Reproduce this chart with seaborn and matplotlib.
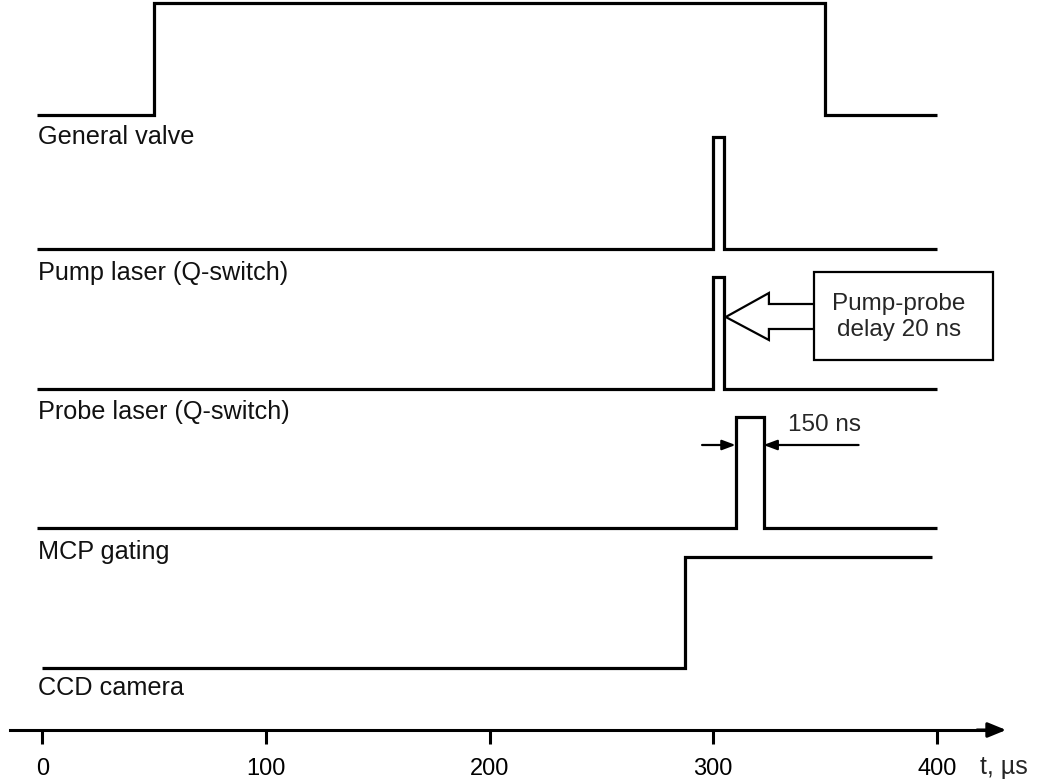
import numpy as np
import pandas as pd
import matplotlib
matplotlib.use("Agg")
import matplotlib.pyplot as plt
import seaborn as sns

# ---- timing data (µs) ----
channels = ["General valve", "Pump laser (Q-switch)", "Probe laser (Q-switch)",
            "MCP gating", "CCD camera"]
valve_t = [-2.5, 50, 350, 400]
valve_s = [0, 1, 0, 0]
pump_t = [-2.5, 300, 305, 400]
pump_s = [0, 1, 0, 0]
probe_t = [-2.5, 300, 305, 400]
probe_s = [0, 1, 0, 0]
mcp_t = [-2.5, 310, 322.5, 400]
mcp_s = [0, 1, 0, 0]
ccd_t = [0, 287.5, 398]
ccd_s = [0, 1, 1]
tick_values = [0, 100, 200, 300, 400]
tick_labels = ["0", "100", "200", "300", "400"]

# ---- layout (vertical rows in figure pixels, top = 0) ----
low_rows = [115, 249, 389, 528, 668]
high_rows = [3, 137, 277, 417, 557]
label_rows = [137, 273, 412, 552, 688]
axis_row = 730

sns.set_theme(style="white")
plt.rcParams["font.family"] = ["Liberation Sans", "DejaVu Sans"]


def step_points(times, states):
    xs, ys = [times[0]], [states[0]]
    for i in range(1, len(times)):
        xs += [times[i], times[i]]
        ys += [states[i - 1], states[i]]
    return xs, ys


frames = []
for name, t, s, lo, hi in zip(channels,
                              [valve_t, pump_t, probe_t, mcp_t, ccd_t],
                              [valve_s, pump_s, probe_s, mcp_s, ccd_s],
                              low_rows, high_rows):
    xs, ys = step_points(t, s)
    rows = [lo + (hi - lo) * v for v in ys]
    frames.append(pd.DataFrame({"t": xs, "row": rows, "channel": name,
                                "order": np.arange(len(xs))}))
traces = pd.concat(frames, ignore_index=True)

fig = plt.figure(figsize=(10.37, 7.82), dpi=100)
ax = fig.add_axes([0, 0, 1, 1])
ax.set_xlim(-19.0, 444.8)
ax.set_ylim(782, 0)

sns.lineplot(data=traces, x="t", y="row", hue="channel", units="channel",
             estimator=None, sort=False, palette=["black"] * len(channels),
             linewidth=2.3, legend=False, ax=ax)
for ln in ax.lines:
    ln.set_solid_joinstyle("miter")
    ln.set_solid_capstyle("butt")

# channel names
for name, r in zip(channels, label_rows):
    ax.text(-1.8, r, name, fontsize=18.2, va="center", ha="left", color="#111111")

# time axis
for side in ["top", "left", "right"]:
    ax.spines[side].set_visible(False)
ax.spines["bottom"].set_position(("data", axis_row))
ax.spines["bottom"].set_bounds(-14.5, 424)
ax.spines["bottom"].set_linewidth(2.2)
ax.spines["bottom"].set_color("black")
ax.set_xticks(tick_values)
ax.set_xticklabels(tick_labels)
ax.tick_params(axis="x", direction="out", length=10, width=2.2, pad=10,
               labelsize=17, colors="black", bottom=True)
ax.set_yticks([])
ax.set_xlabel("")
ax.set_ylabel("")
ax.annotate("", xy=(431.0, axis_row), xytext=(418, axis_row),
            arrowprops=dict(arrowstyle="-|>,head_length=1.1,head_width=0.45",
                            mutation_scale=10, color="black", lw=2.2,
                            shrinkA=0, shrinkB=0))
ax.text(419.3, 767, "t, µs", fontsize=18, va="center", ha="left")

# pump-probe delay callout: hollow arrow and box
arrow_x = [345.0, 324.9, 324.9, 305.6, 324.9, 324.9, 345.0]
arrow_y = [304, 304, 293, 317, 340, 329, 329]
ax.plot(arrow_x, arrow_y, color="black", lw=1.6, solid_joinstyle="miter")
box = plt.Rectangle((345.0, 272), 425.1 - 345.0, 360 - 272, fill=False,
                    edgecolor="black", lw=1.6)
ax.add_patch(box)
ax.text(383.0, 317, "Pump-probe\ndelay 20 ns", fontsize=17.5, ha="center",
        va="center", linespacing=1.28)

# gate width marker
ax.annotate("", xy=(310, 445), xytext=(295, 445),
            arrowprops=dict(arrowstyle="-|>,head_length=0.8,head_width=0.3",
                            mutation_scale=10, color="black", lw=1.6,
                            shrinkA=0, shrinkB=0))
ax.annotate("", xy=(322.5, 445), xytext=(365, 445),
            arrowprops=dict(arrowstyle="-|>,head_length=0.8,head_width=0.3",
                            mutation_scale=10, color="black", lw=1.6,
                            shrinkA=0, shrinkB=0))
ax.text(333.3, 425, "150 ns", fontsize=17.5, ha="left", va="center")

fig.savefig("out.png", dpi=100, facecolor="white")
